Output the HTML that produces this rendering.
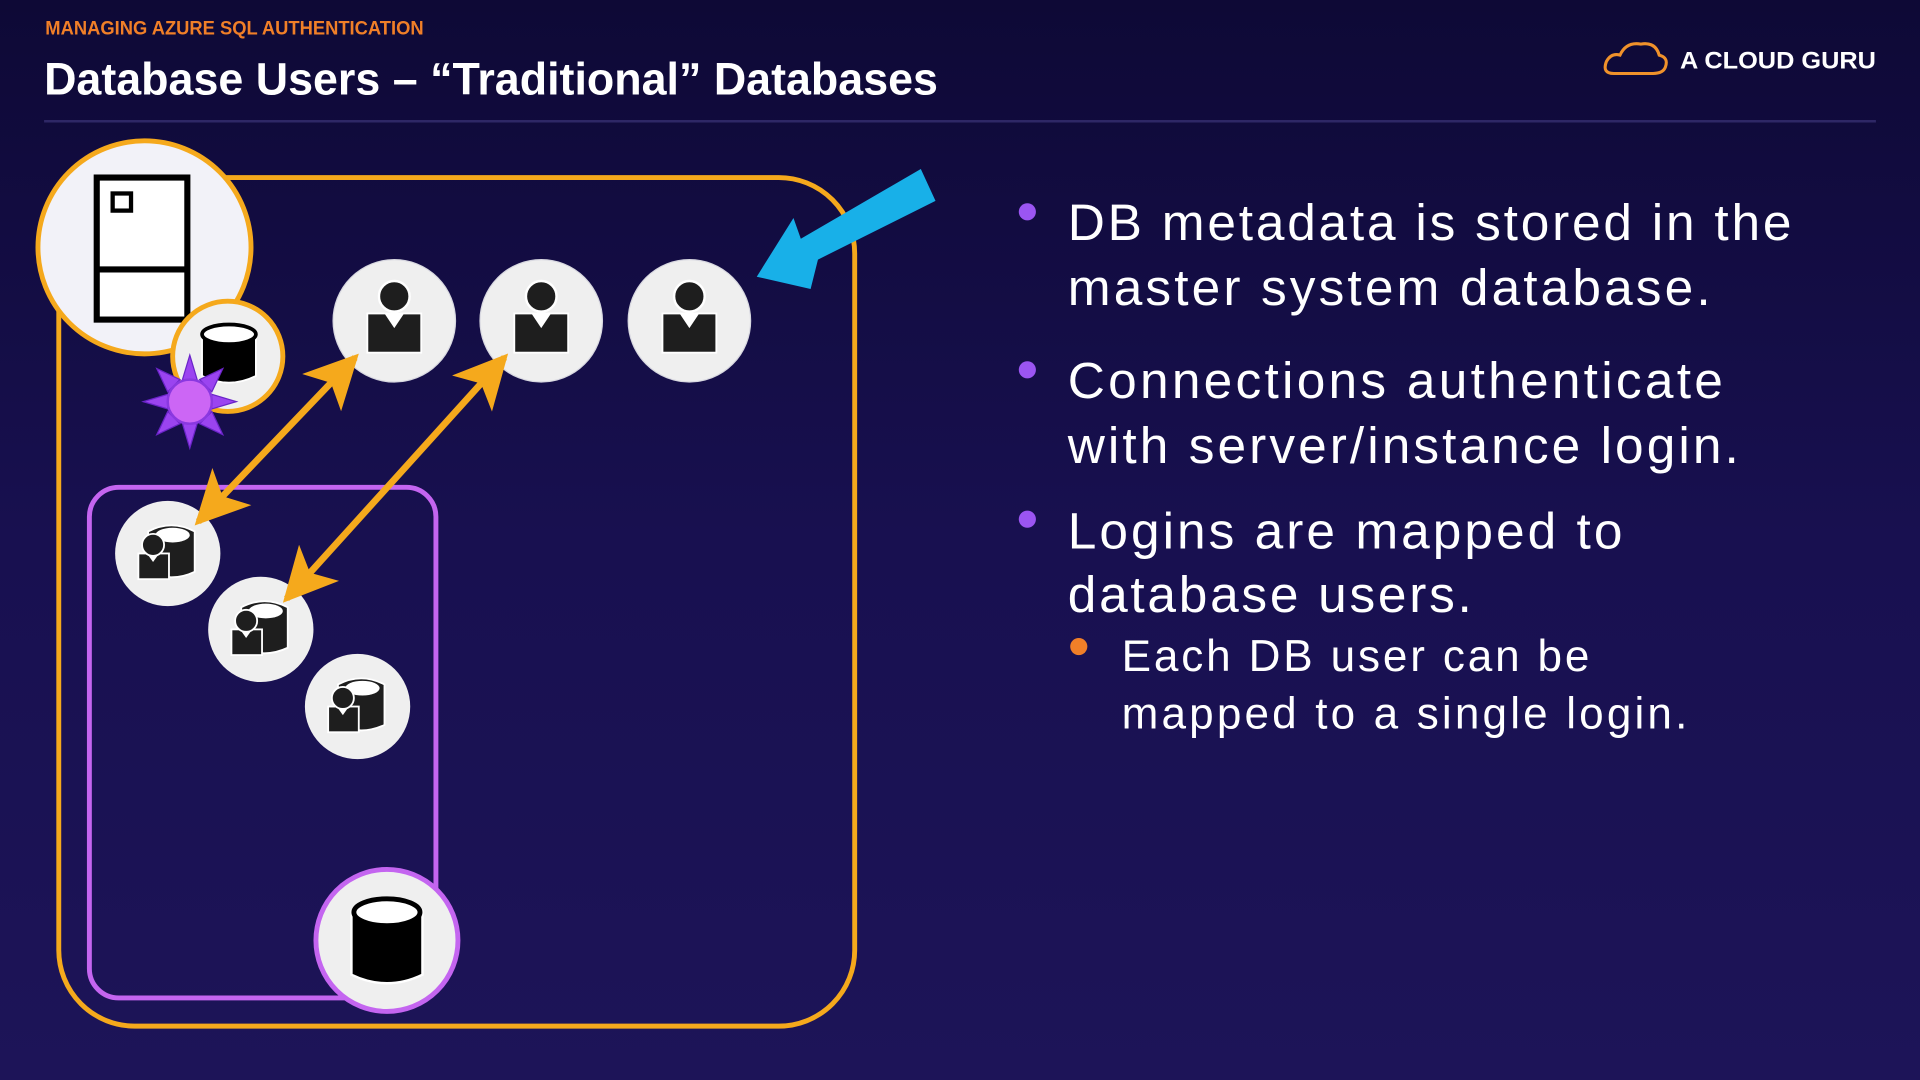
<!DOCTYPE html>
<html><head><meta charset="utf-8"><style>
html,body{margin:0;padding:0;width:1920px;height:1080px;overflow:hidden;background:#140d45;}
svg{display:block}
text{font-family:"Liberation Sans",sans-serif;}
</style></head><body>
<svg width="1920" height="1080" viewBox="0 0 1568 882" xmlns="http://www.w3.org/2000/svg">
<defs>
<linearGradient id="bg" x1="0" y1="0" x2="0" y2="1">
<stop offset="0" stop-color="#0e0936"/><stop offset="0.5" stop-color="#181050"/><stop offset="1" stop-color="#1d1458"/>
</linearGradient>
<marker id="ah" viewBox="0 0 20 20" refX="18" refY="10" markerWidth="8" markerHeight="8" orient="auto-start-reverse" markerUnits="strokeWidth">
<path d="M0,0 L20,10 L0,20 L5,10 Z" fill="#f5a91c"/>
</marker>
<g id="user">
<circle r="50" fill="#efefef" stroke="#d8d8e0" stroke-width="1"/>
<rect x="-22" y="-6" width="44" height="32" fill="#1e1e1e" stroke="#fff" stroke-width="1.5"/>
<path d="M-8,-6 L0,6 L8,-6 Z" fill="#fff"/>
<circle cy="-20" r="12.5" fill="#1e1e1e" stroke="#fff" stroke-width="2"/>
</g>
<g id="dbu">
<circle r="43" fill="#efefef"/>
<path d="M-16,-18 Q3,-28 22,-18 L22,15 Q3,24 -16,15 Z" fill="#1e1e1e" stroke="#fff" stroke-width="1.5"/>
<ellipse cx="4" cy="-15" rx="14" ry="6" fill="#fff"/>
<rect x="-24" y="0" width="25" height="21" fill="#1e1e1e" stroke="#fff" stroke-width="1.5"/>
<path d="M-17,0 L-12,7 L-7,0Z" fill="#fff"/>
<circle cx="-12" cy="-7" r="9" fill="#1e1e1e" stroke="#fff" stroke-width="1.5"/>
</g>
</defs>
<rect width="1568" height="882" fill="url(#bg)"/>
<text x="37" y="28" font-size="15.5" font-weight="bold" fill="#f07f28" textLength="309" lengthAdjust="spacingAndGlyphs">MANAGING AZURE SQL AUTHENTICATION</text>
<text x="36" y="77" font-size="37" font-weight="bold" fill="#fff" textLength="730" lengthAdjust="spacingAndGlyphs">Database Users – “Traditional” Databases</text>
<line x1="36" y1="99" x2="1532" y2="99" stroke="#2e2766" stroke-width="2"/>
<!-- logo -->
<path d="M1318,60 Q1308,60 1312,50 Q1316,43 1323,45 Q1328,34 1340,36 Q1352,34 1355,45 Q1363,47 1360,55 Q1358,60 1350,60 Z" fill="none" stroke="#f0922b" stroke-width="2.5"/>
<text x="1372" y="56" font-size="20" font-weight="bold" fill="#fff" textLength="160" lengthAdjust="spacingAndGlyphs">A CLOUD GURU</text>
<!-- containers -->
<rect x="48" y="145" width="650" height="693" rx="62" fill="none" stroke="#f5a91c" stroke-width="4"/>
<rect x="73" y="398" width="283" height="417" rx="24" fill="none" stroke="#c465f0" stroke-width="4"/>
<!-- server -->
<circle cx="118" cy="202" r="87" fill="#f2f2f8" stroke="#f5a91c" stroke-width="4"/>
<rect x="79" y="145" width="74" height="116" fill="#fff" stroke="#000" stroke-width="5"/>
<line x1="79" y1="220" x2="153" y2="220" stroke="#000" stroke-width="5"/>
<rect x="92" y="158" width="15" height="14" fill="#fff" stroke="#000" stroke-width="3.5"/>
<circle cx="186" cy="291" r="45" fill="#efefef" stroke="#f5a91c" stroke-width="4"/>
<path d="M165,272 L165,307 Q187,318 209,307 L209,272 Z" fill="#000" stroke="#fff" stroke-width="1.5"/>
<ellipse cx="187" cy="273" rx="22" ry="8" fill="#fff" stroke="#000" stroke-width="3"/>
<!-- sun -->
<g transform="translate(155,328)" fill="#9b44f0" stroke="#6a24c8" stroke-width="1">
<polygon points="0,-38 6,-18 -6,-18"/><polygon points="0,38 6,18 -6,18"/>
<polygon points="-38,0 -18,6 -18,-6"/><polygon points="38,0 18,6 18,-6"/>
<polygon points="-27,-27 -8,-18 -18,-8"/><polygon points="27,-27 8,-18 18,-8"/>
<polygon points="-27,27 -8,18 -18,8"/><polygon points="27,27 8,18 18,8"/>
<circle r="18" fill="#cc66f5" stroke="#8a38e0" stroke-width="2"/>
</g>
<use href="#user" x="322" y="262"/>
<use href="#user" x="442" y="262"/>
<use href="#user" x="563" y="262"/>
<use href="#dbu" x="137" y="452"/>
<use href="#dbu" x="213" y="514"/>
<use href="#dbu" x="292" y="577"/>
<!-- bottom db -->
<circle cx="316" cy="768" r="58" fill="#efefef" stroke="#c465f0" stroke-width="4"/>
<path d="M287,744 L287,796 Q316,810 345,796 L345,744 Z" fill="#000" stroke="#fff" stroke-width="2"/>
<ellipse cx="316" cy="745" rx="27" ry="11" fill="#fff" stroke="#000" stroke-width="4"/>
<!-- arrows -->
<line x1="290" y1="292" x2="162" y2="426" stroke="#f5a91c" stroke-width="5.5" marker-start="url(#ah)" marker-end="url(#ah)"/>
<line x1="412" y1="292" x2="234" y2="489" stroke="#f5a91c" stroke-width="5.5" marker-start="url(#ah)" marker-end="url(#ah)"/>
<!-- blue arrow -->
<polygon points="752,138 764,164 668,212 662,236 618,226 648,178 654,195" fill="#18b0e8"/>
<!-- text -->
<g fill="#fff" font-size="42" lengthAdjust="spacing">
<text x="872" y="196" textLength="591">DB metadata is stored in the</text>
<text x="872" y="249" textLength="525">master system database.</text>
<text x="872" y="325" textLength="535">Connections authenticate</text>
<text x="872" y="378" textLength="548">with server/instance login.</text>
<text x="872" y="448" textLength="453">Logins are mapped to</text>
<text x="872" y="500" textLength="330">database users.</text>
<text x="916" y="548" font-size="36" textLength="382">Each DB user can be</text>
<text x="916" y="595" font-size="36" textLength="462">mapped to a single login.</text>
</g>
<circle cx="839" cy="173" r="7" fill="#9b55f2"/>
<circle cx="839" cy="302" r="7" fill="#9b55f2"/>
<circle cx="839" cy="424" r="7" fill="#9b55f2"/>
<circle cx="881" cy="528" r="7" fill="#f07f28"/>
</svg>
</body></html>
